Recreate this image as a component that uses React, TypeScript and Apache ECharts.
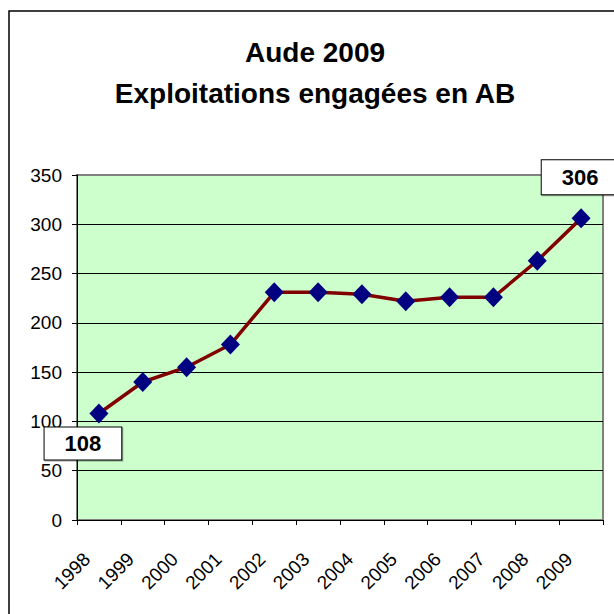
import React, { useEffect, useRef } from "react";
import * as echarts from "echarts";

const years = ["1998", "1999", "2000", "2001", "2002", "2003", "2004", "2005", "2006", "2007", "2008", "2009"];
const exploitations = [108, 140, 155, 178, 231, 231, 229, 222, 226, 226, 263, 306];
const titleLines = ["Aude 2009", "Exploitations engagées en AB"];

const FONT = "'Liberation Sans', Arial, Helvetica, sans-serif";

export default function App() {
  const ref = useRef<HTMLDivElement>(null);
  useEffect(() => {
    if (!ref.current) return;
    const chart = echarts.init(ref.current, null, { renderer: "svg" });
    const labelBase = {
      show: true,
      position: "inside",
      color: "#000",
      fontFamily: FONT,
      fontSize: 22,
      fontWeight: "bold",
      lineHeight: 22,
      backgroundColor: "#fff",
      borderColor: "#000",
      borderWidth: 1,
      padding: [5, 20, 5, 20],
      shadowColor: "rgba(0,0,0,0.35)",
      shadowOffsetX: 1,
      shadowOffsetY: 1,
    };
    const data = exploitations.map((v, i) => {
      if (i === 0) return { value: v, label: { ...labelBase, offset: [-16, 30] } };
      if (i === exploitations.length - 1)
        return { value: v, label: { ...labelBase, offset: [-1, -41], padding: [6, 20, 6, 20] } };
      return v;
    });
    chart.setOption({
      animation: false,
      backgroundColor: "#fff",
      title: {
        text: titleLines.join("\n"),
        left: 315,
        textAlign: "center",
        top: 32,
        padding: 0,
        textStyle: {
          fontFamily: FONT,
          fontSize: 28,
          fontWeight: "bold",
          color: "#000",
          lineHeight: 41,
        },
      },
      graphic: [
        {
          type: "rect",
          z: -10,
          shape: { x: 9, y: 11, width: 700, height: 700 },
          style: { fill: "none", stroke: "#000", lineWidth: 1.5 },
        },
      ],
      grid: {
        left: 77,
        top: 175,
        width: 526,
        height: 345,
        show: true,
        backgroundColor: "#CCFFCC",
        borderColor: "#808080",
        borderWidth: 2,
      },
      xAxis: {
        type: "category",
        data: years,
        boundaryGap: true,
        axisLine: { show: true, lineStyle: { color: "#000", width: 1 } },
        axisTick: { show: true, length: 5, lineStyle: { color: "#000" } },
        axisLabel: {
          interval: 0,
          rotate: 45,
          margin: 24,
          padding: [0, 17, 0, 0],
          fontFamily: FONT,
          fontSize: 19,
          color: "#000",
        },
        splitLine: { show: false },
      },
      yAxis: {
        type: "value",
        min: 0,
        max: 350,
        interval: 50,
        axisLine: { show: true, lineStyle: { color: "#000", width: 1 } },
        axisTick: { show: true, length: 5, lineStyle: { color: "#000" } },
        axisLabel: {
          margin: 15,
          fontFamily: FONT,
          fontSize: 19,
          color: "#000",
        },
        splitLine: {
          show: true,
          lineStyle: {
            color: ["#000", "#000", "#000", "#000", "#000", "#000", "#000", "#808080"],
            width: 1,
          },
        },
      },
      series: [
        {
          type: "line",
          data,
          z: 5,
          lineStyle: { color: "#800000", width: 3.5 },
          symbol: "diamond",
          symbolSize: [19, 20],
          itemStyle: { color: "#000080" },
          label: { show: false },
        },
      ],
    });
    return () => chart.dispose();
  }, []);
  return (
    <div
      ref={ref}
      style={{ position: "fixed", left: 0, top: 0, width: 614, height: 614 }}
    />
  );
}
